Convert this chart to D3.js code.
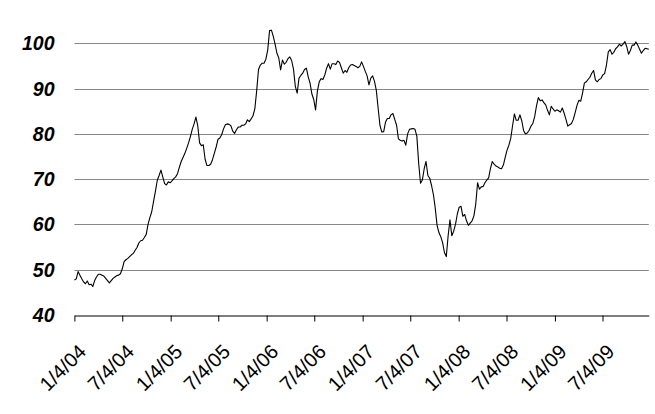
<!DOCTYPE html>
<html>
<head>
<meta charset="utf-8">
<script src="https://cdn.jsdelivr.net/npm/d3@7"></script>
<style>
  body { margin: 0; background: #fff; }
  svg { display: block; font-family: "Liberation Sans", Arial, sans-serif; }
  .grid line { stroke: #888; stroke-width: 1; }
  .ylab { font-size: 19.5px; font-weight: bold; font-style: italic; }
  .xlab { font-size: 20px; }
</style>
</head>
<body>
<script>
// weekly closes, first week starts Sunday 1/4/04
var startDate = "1/4/04";
var prices2004 = [47.7, 48.0, 49.6, 48.8, 48.0, 47.3, 46.9, 47.5, 46.7, 46.8,
    46.3, 47.6, 48.4, 49.0, 49.0, 48.8, 48.6, 48.1, 47.6, 47.1,
    47.6, 48.1, 48.4, 48.7, 48.8, 49.1, 50.2, 51.8, 52.2, 52.5,
    52.9, 53.3, 53.6, 54.3, 54.9, 55.9, 56.4, 56.5, 57.1, 57.8,
    60.0, 61.5, 62.8, 65.1, 67.3, 69.7, 70.8, 72.0, 70.5, 69.0,
    68.7, 69.4];
var prices2005 = [69.2, 69.6, 70.1, 70.5, 71.2, 72.6, 73.9, 74.8, 75.7, 76.8,
    78.0, 79.4, 81.0, 82.2, 83.7, 81.8, 78.0, 77.4, 77.6, 74.4,
    73.0, 73.0, 73.3, 74.3, 75.7, 77.1, 78.8, 79.1, 79.8, 81.1,
    82.0, 82.2, 82.1, 81.8, 80.6, 80.1, 80.9, 81.5, 81.5, 81.9,
    81.9, 82.2, 83.1, 82.7, 83.3, 84.0, 85.5, 89.5, 94.2, 95.2,
    95.6, 95.6];
var prices2006 = [96.5, 98.5, 102.8, 102.9, 101.6, 99.8, 97.8, 96.8, 94.1, 96.3,
    95.4, 95.8, 96.6, 97.0, 96.2, 94.3, 90.5, 89.0, 92.3, 92.9,
    93.4, 94.2, 94.5, 92.6, 91.2, 88.8, 87.6, 85.3, 89.5, 91.5,
    92.2, 92.0, 93.0, 94.5, 95.5, 94.3, 95.5, 95.5, 95.3, 96.1,
    95.8, 94.6, 93.4, 94.0, 93.6, 94.6, 95.2, 95.3, 95.1, 94.9,
    94.6, 94.9, 95.9];
var prices2007 = [94.9, 93.8, 92.8, 90.8, 92.3, 92.8, 91.6, 89.6, 85.6, 81.8,
    80.4, 80.5, 82.6, 83.4, 83.4, 84.2, 84.5, 83.2, 81.9, 78.9,
    78.6, 78.4, 78.6, 77.5, 80.0, 81.0, 81.1, 81.2, 81.0, 79.5,
    73.5, 69.1, 69.8, 72.3, 73.9, 70.8, 70.2, 68.6, 66.6, 63.6,
    59.8, 58.2, 57.3, 56.0, 53.8, 52.9, 57.5, 61.0, 57.5, 58.5,
    60.0, 62.3];
var prices2008 = [63.8, 64.0, 61.8, 62.2, 60.8, 59.8, 60.3, 60.8, 61.9, 64.5,
    69.2, 67.8, 68.3, 68.4, 69.2, 69.8, 70.3, 72.4, 73.9, 73.3,
    72.9, 72.7, 72.4, 72.3, 73.1, 74.8, 76.4, 77.5, 79.0, 81.8,
    84.4, 83.0, 83.0, 84.2, 82.9, 80.7, 80.0, 80.2, 80.8, 81.7,
    82.3, 83.8, 86.2, 88.0, 87.3, 87.5, 86.9, 86.4, 85.2, 84.2,
    86.1, 85.5];
var prices2009 = [85.0, 85.3, 85.1, 84.8, 85.7, 84.6, 83.2, 81.7, 82.0, 82.3,
    83.2, 84.7, 86.3, 87.4, 87.2, 89.0, 91.2, 91.5, 92.0, 92.5,
    93.4, 94.0, 91.9, 91.5, 92.0, 92.2, 93.0, 93.3, 95.2, 98.1,
    98.6, 97.6, 98.0, 98.8, 99.2, 99.8, 99.4, 99.8, 100.4, 99.3,
    97.6, 98.4, 99.6, 99.6, 100.3, 99.6, 98.7, 97.8, 98.4, 98.9,
    98.8, 98.7];

var yTicks = [40, 50, 60, 70, 80, 90, 100];
var xTickLabels = ["1/4/04", "7/4/04", "1/4/05", "7/4/05", "1/4/06", "7/4/06",
    "1/4/07", "7/4/07", "1/4/08", "7/4/08", "1/4/09", "7/4/09"];

var width = 655;
var height = 414;
var margin = {top: 43.3, right: 6.2, bottom: 99, left: 74.4};

var parse = d3.timeParse("%m/%d/%y");
var start = parse(startDate);
var prices = [].concat(prices2004, prices2005, prices2006, prices2007, prices2008, prices2009);
var data = prices.map(function(v, i) {
    return {date: d3.timeWeek.offset(start, i), value: v};
});

var svg = d3.select("body")
    .append("svg")
    .attr("width", width)
    .attr("height", height);

var x = d3.scaleTime()
    .domain(d3.extent(data, d => d.date))
    .range([margin.left, width - margin.right]);

var y = d3.scaleLinear()
    .domain([40, 100])
    .range([height - margin.bottom, margin.top]);

// horizontal gridlines
svg.append("g")
    .attr("class", "grid")
    .selectAll("line")
    .data(yTicks.filter(d => d > 40))
    .join("line")
    .attr("x1", x.range()[0])
    .attr("x2", x.range()[1])
    .attr("y1", d => Math.round(y(d)) + 0.5)
    .attr("y2", d => Math.round(y(d)) + 0.5);

// y labels
svg.append("g")
    .selectAll("text")
    .data(yTicks)
    .join("text")
    .attr("class", "ylab")
    .attr("x", 54.5)
    .attr("y", d => y(d))
    .attr("dy", "0.36em")
    .attr("text-anchor", "end")
    .text(d => d);

// bottom axis
var xTicks = xTickLabels.map(parse);
var xAxis = d3.axisBottom(x)
    .tickValues(xTicks)
    .tickSize(6)
    .tickSizeOuter(0)
    .tickFormat("");

svg.append("g")
    .attr("transform", "translate(0," + (Math.round(y(40)) + 0.5) + ")")
    .call(xAxis)
    .call(g => g.selectAll("line, path").attr("stroke", "#000"));

svg.append("g")
    .selectAll("text")
    .data(xTicks)
    .join("text")
    .attr("class", "xlab")
    .attr("transform", (d, i) => "translate(" + (x(d) + 13) + "," + 353 + ") rotate(-45)")
    .attr("text-anchor", "end")
    .text((d, i) => xTickLabels[i]);

// price line
var line = d3.line()
    .x(d => x(d.date))
    .y(d => y(d.value));

svg.append("path")
    .datum(data)
    .attr("fill", "none")
    .attr("stroke", "#000")
    .attr("stroke-width", 1.1)
    .attr("stroke-linejoin", "round")
    .attr("d", line);
</script>
</body>
</html>
